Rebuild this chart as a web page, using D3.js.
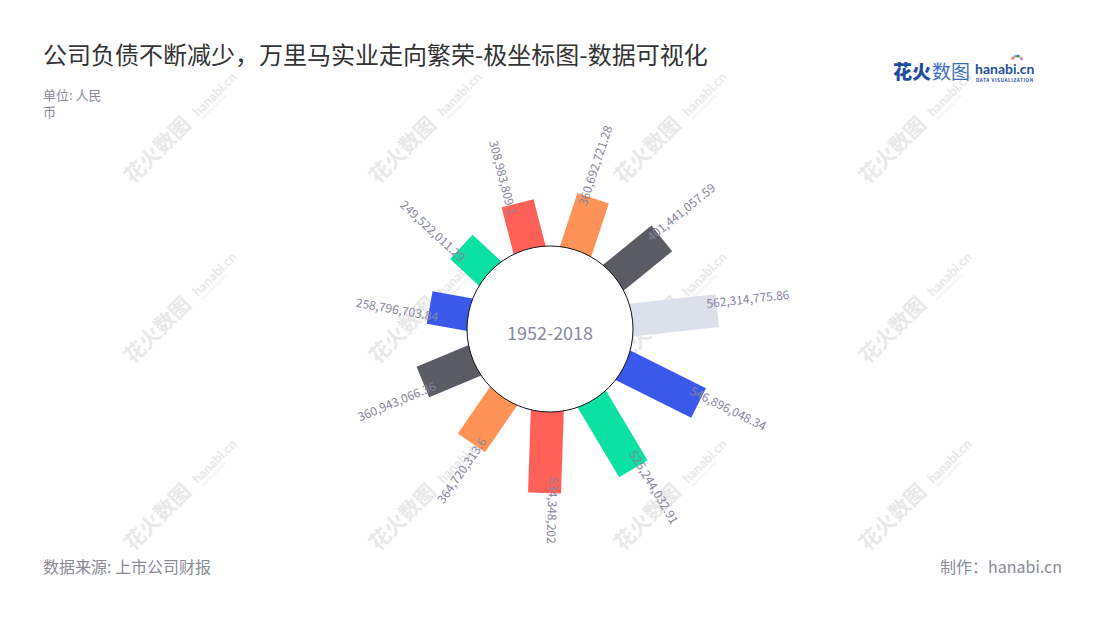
<!DOCTYPE html>
<html>
<head>
<meta charset="utf-8">
<script src="https://cdn.jsdelivr.net/npm/d3@7"></script>
<style>
  html, body { margin: 0; padding: 0; background: #fff; }
  svg { display: block; font-family: "Noto Sans CJK SC", "Noto Sans", sans-serif; }
</style>
</head>
<body>
<svg id="chart" width="1100" height="620"></svg>
<script>
// ---- data (clockwise from the top) ----
const values = [360692721.28, 401441057.59, 562314775.86, 546896048.34, 525244032.91,
                534348202, 364720313.6, 360943066.36, 258796703.84, 249522011.29, 308983809.1];
const barColors = ["#FF9257", "#5B5B66", "#DCE0EA", "#3A58E9", "#0BE1A2",
                   "#FF6159", "#FF9257", "#5B5B66", "#3A58E9", "#0BE1A2", "#FF6159"];
const centerLabel = "1952-2018";
const titleText = "公司负债不断减少，万里马实业走向繁荣-极坐标图-数据可视化";
const unitLines = ["单位: 人民", "币"];
const sourceText = "数据来源: 上市公司财报";
const creditText = "制作：hanabi.cn";

const svg = d3.select("#chart");
const cx = 550, cy = 329, innerR = 83;

// ---- watermark ----
const wmCols = [133, 378, 623, 868];
const wmRows = [185, 365, 552];
const wm = svg.append("g").attr("class", "watermark");
wmRows.forEach(y => wmCols.forEach(x => {
  const g = wm.append("g").attr("transform", `translate(${x},${y}) rotate(-45)`);
  g.append("text").attr("x", 0).attr("y", 0)
    .attr("font-size", 21).attr("font-weight", 700).attr("fill", "#e8e8e8")
    .text("花火数图");
  g.append("text").attr("x", 94).attr("y", -2)
    .attr("font-size", 13).attr("font-weight", 900).attr("fill", "#e8e8e8")
    .attr("font-family", "Lato, sans-serif")
    .text("hanabi.cn");
  g.append("text").attr("x", 95).attr("y", 3.5)
    .attr("font-size", 3.5).attr("fill", "#e8e8e8")
    .text("DATA VISUALIZATION");
}));

// ---- scales ----
const angle = d3.scaleBand().domain(d3.range(values.length)).range([0, 360]);
const radius = d3.scaleLinear().domain([0, 600e6]).range([innerR, 174]);
const angleShift = 1.9;
const barW = 33;
const fmt = d3.format(",");
const angOf = i => angle(i) + angle.bandwidth() / 2;

const plot = svg.append("g").attr("transform", `translate(${cx},${cy})`);

// bars
plot.selectAll("g.bar").data(values).join("g")
  .attr("class", "bar")
  .attr("transform", (d, i) => `rotate(${angOf(i) + angleShift - 90})`)
  .append("rect")
  .attr("x", 40)
  .attr("y", -barW / 2)
  .attr("width", d => radius(d) - 40)
  .attr("height", barW)
  .attr("fill", (d, i) => barColors[i]);

// inner circle
plot.append("circle").attr("r", innerR)
  .attr("fill", "#fff").attr("stroke", "#111").attr("stroke-width", 1);

plot.append("text").attr("x", 0).attr("y", 10.5)
  .attr("text-anchor", "middle").attr("font-size", 18).attr("fill", "#8A8AA0")
  .text(centerLabel);

// value labels
plot.selectAll("g.lab").data(values).join("g")
  .attr("class", "lab")
  .each(function(d, i) {
    const a = angOf(i) + angleShift;
    const outward = angOf(i) <= 180;
    const g = d3.select(this).attr("transform", `rotate(${outward ? a - 90 : a + 90})`);
    const inset = outward ? 10 + 6 * Math.max(0, Math.cos((a - 180) * Math.PI / 180)) : 10;
    const rr = radius(d) - inset;
    g.append("text")
      .attr("x", outward ? rr : -rr)
      .attr("y", outward ? -8 : 8)
      .attr("dy", "0.35em")
      .attr("text-anchor", outward ? "start" : "end")
      .attr("font-size", 12)
      .attr("fill", "#85859C")
      .text(fmt(d));
  });

// ---- titles ----
svg.append("text").attr("x", 43).attr("y", 64)
  .attr("font-size", 24).attr("fill", "#333").text(titleText);

unitLines.forEach((t, k) => {
  svg.append("text").attr("x", 43).attr("y", 100 + k * 17)
    .attr("font-size", 13).attr("fill", "#8A8A95").text(t);
});

svg.append("text").attr("x", 43).attr("y", 573)
  .attr("font-size", 16).attr("fill", "#8A8A95").text(sourceText);
svg.append("text").attr("x", 1062).attr("y", 573).attr("text-anchor", "end")
  .attr("font-size", 16).attr("fill", "#8A8A95").text(creditText);

// ---- logo ----
const logo = svg.append("g").attr("transform", "translate(893,79)");
logo.append("text").attr("x", 0).attr("y", 0)
  .attr("font-size", 19).attr("font-weight", 900).attr("fill", "#1F4E9C").text("花火");
logo.append("text").attr("x", 39).attr("y", 0)
  .attr("font-size", 19).attr("font-weight", 400).attr("fill", "#3B6FC2").text("数图");
logo.append("text").attr("x", 82).attr("y", -5)
  .attr("font-size", 14).attr("font-weight", 700).attr("fill", "#1F4E9C")
  .attr("font-family", "Lato, sans-serif").text("hanabi.cn");
logo.append("text").attr("x", 83).attr("y", 2.5)
  .attr("font-size", 4.6).attr("font-weight", 700).attr("fill", "#1F4E9C")
  .attr("letter-spacing", 0.6).text("DATA VISUALIZATION");
const sparks = ["#ff5f57", "#ff9257", "#0be1a2", "#3a58e9", "#f7c845", "#b36cf0"];
sparks.forEach((c, k) => {
  const t = (-150 + k * 25) * Math.PI / 180;
  logo.append("circle").attr("cx", 124 + 5 * Math.cos(t)).attr("cy", -18 + 5 * Math.sin(t))
    .attr("r", 1.3).attr("fill", c);
});
</script>
</body>
</html>
